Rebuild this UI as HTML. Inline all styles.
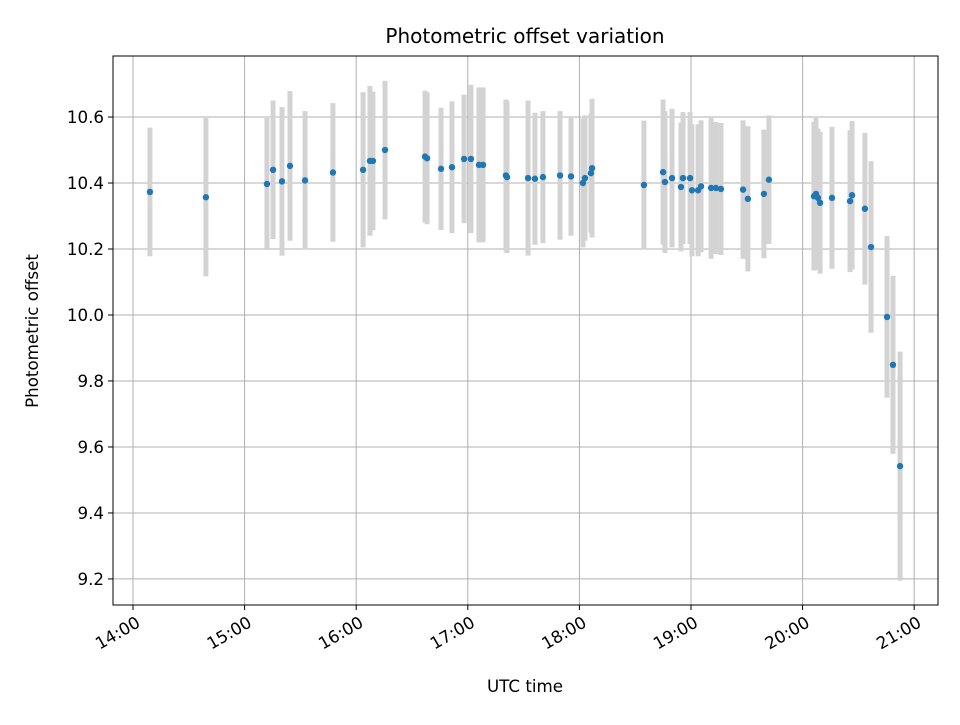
<!DOCTYPE html>
<html><head><meta charset="utf-8"><style>
body{margin:0;background:#fff}
svg text{font-family:"DejaVu Sans","Liberation Sans",sans-serif;fill:#000}
</style></head><body>
<svg id="chart" width="960" height="720">
<rect x="0" y="0" width="960" height="720" fill="#fff"/>
<g id="grid"></g>
<g id="bars"></g>
<g id="pts"></g>
<rect x="113" y="56" width="825" height="549" fill="none" stroke="#000" stroke-width="1"/>
<g id="axes"></g>
<text x="525" y="43" font-size="20" text-anchor="middle">Photometric offset variation</text>
<text x="525" y="692" font-size="16.7" text-anchor="middle">UTC time</text>
<text transform="translate(38,331) rotate(-90)" font-size="16.7" text-anchor="middle">Photometric offset</text>
</svg>
<script>
// minutes since 14:00 UTC
const times=[9.1,39.2,72.0,75.3,80.1,84.4,92.5,107.5,123.7,127.4,129.0,135.5,157.0,158.1,165.6,171.5,178.0,181.7,186.0,188.2,200.5,201.1,212.4,216.1,220.4,229.6,235.5,241.9,243.0,246.2,246.8,274.7,285.0,286.0,289.8,294.6,295.7,299.5,300.5,303.8,305.4,310.8,313.4,316.1,328.0,330.6,339.2,341.9,366.1,367.2,368.3,369.4,375.8,385.5,386.6,393.5,396.8,405.4,408.6,412.4];
const values=[10.373,10.357,10.397,10.44,10.405,10.452,10.408,10.432,10.44,10.467,10.467,10.5,10.48,10.475,10.443,10.448,10.473,10.473,10.455,10.455,10.423,10.418,10.415,10.413,10.418,10.423,10.42,10.4,10.415,10.43,10.445,10.394,10.433,10.403,10.415,10.388,10.415,10.415,10.378,10.378,10.39,10.385,10.385,10.382,10.38,10.352,10.367,10.41,10.36,10.367,10.355,10.34,10.355,10.345,10.363,10.322,10.206,9.994,9.849,9.542];
const errors=[0.195,0.24,0.2,0.21,0.225,0.227,0.21,0.21,0.235,0.227,0.21,0.21,0.2,0.2,0.185,0.2,0.195,0.225,0.235,0.235,0.23,0.23,0.235,0.2,0.2,0.195,0.18,0.195,0.19,0.18,0.21,0.195,0.22,0.215,0.21,0.195,0.2,0.2,0.2,0.2,0.2,0.215,0.2,0.2,0.21,0.22,0.195,0.195,0.225,0.23,0.21,0.215,0.215,0.215,0.225,0.23,0.26,0.245,0.27,0.347];
const xTickLabels=["14:00","15:00","16:00","17:00","18:00","19:00","20:00","21:00"];
const yTickLabels=["9.2","9.4","9.6","9.8","10.0","10.2","10.4","10.6"];
const NS="http://www.w3.org/2000/svg";
const X0=113,X1=938,Y0=56,Y1=605,XMIN=-10.75,XMAX=432.8,YMIN=9.121,YMAX=10.785;
const sx=t=>X0+(t-XMIN)/(XMAX-XMIN)*(X1-X0);
const sy=v=>Y1-(v-YMIN)/(YMAX-YMIN)*(Y1-Y0);
function mk(tag,at,parent){const e=document.createElementNS(NS,tag);for(const k in at)e.setAttribute(k,at[k]);document.getElementById(parent).appendChild(e);return e;}
xTickLabels.forEach((lab,i)=>{const x=sx(i*60);
 const g=mk('line',{x1:x,x2:x,y1:Y0,y2:Y1,stroke:'#b0b0b0','stroke-width':1},'grid');
 
 const t=mk('line',{x1:x,x2:x,y1:Y1,y2:Y1+5,stroke:'#000'},'axes');
 
 const tx=mk('text',{'font-size':16.7,'text-anchor':'end',transform:`translate(${x+2},${Y1+10}) rotate(-30)`,dy:'0.75em'},'axes');
 tx.textContent=lab;});
yTickLabels.forEach(lab=>{const y=sy(parseFloat(lab));
 const g=mk('line',{x1:X0,x2:X1,y1:y,y2:y,stroke:'#b0b0b0','stroke-width':1},'grid');
 
 const t=mk('line',{x1:X0-5,x2:X0,y1:y,y2:y,stroke:'#000'},'axes');
 
 const tx=mk('text',{x:X0-9,y:y+6,'font-size':16.7,'text-anchor':'end'},'axes');
 tx.textContent=lab;});
times.forEach((t,i)=>{const x=sx(t),v=values[i],e=errors[i];
 const b=mk('line',{x1:x,x2:x,y1:sy(v+e),y2:sy(v-e),stroke:'#d3d3d3','stroke-width':5},'bars');
 });
times.forEach((t,i)=>{
 const c=mk('circle',{cx:sx(t),cy:sy(values[i]),r:3.2,fill:'#1f77b4'},'pts');
 });
</script>
</body></html>
